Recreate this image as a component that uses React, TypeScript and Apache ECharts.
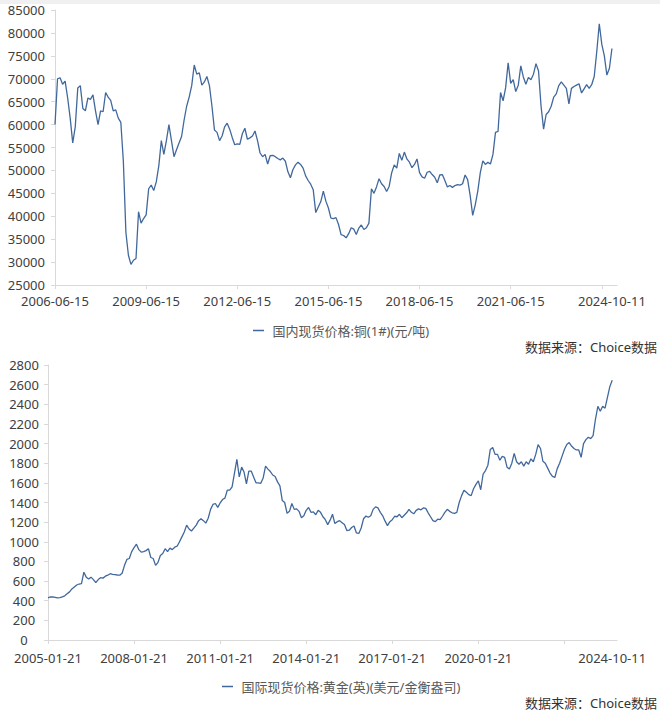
import { useEffect, useRef } from 'react';
import * as echarts from 'echarts';

const copperName = '国内现货价格:铜(1#)(元/吨)';
const goldName = '国际现货价格:黄金(英)(美元/金衡盎司)';
const sourceText = '数据来源：Choice数据';

const copperTickLabels = ['2006-06-15', '2009-06-15', '2012-06-15', '2015-06-15', '2018-06-15', '2021-06-15', '2024-10-11'];
const goldTickLabels = ['2005-01-21', '2008-01-21', '2011-01-21', '2014-01-21', '2017-01-21', '2020-01-21', '2024-10-11'];

// monthly readings, 2006-06 .. 2024-10
const copperValues = [
  60000, 70000, 70200, 68800, 69500, 65800, 61400, 56000, 59500, 68000, 68500, 63500,
  63000, 65800, 65500, 66500, 63000, 60000, 63000, 62800, 67000, 66000, 65300, 63000,
  63200, 61400, 60500, 52000, 36500, 31500, 29500, 30400, 30800, 41000, 38500, 39500,
  40300, 46000, 46800, 45600, 47500, 51000, 56500, 53500, 56500, 60000, 56500, 53000,
  54500, 56000, 57400, 61000, 64000, 66000, 68500, 73000, 71000, 71300, 68600, 69300,
  70500, 68500, 64000, 58800, 58300, 56500, 57500, 59500, 60300, 59000, 57200, 55600,
  55800, 55700, 58000, 59200, 56800, 57100, 57500, 58600, 56500, 53800, 53000, 53500,
  51400, 53200, 53300, 53000, 52600, 52300, 52700, 52000, 49700, 48400, 50200, 51200,
  51800, 51300, 50500, 48800, 47800, 47000, 45800, 40800, 42000, 43200, 45500, 43300,
  41800, 39600, 39500, 39700, 38200, 36000, 35800, 35300, 36200, 37500, 37200, 36000,
  37400, 38100, 37100, 37500, 38500, 46000, 45000, 46400, 48200, 47100, 46500, 45400,
  46500, 49500, 51200, 50500, 53700, 52200, 54000, 52500, 51800, 50600, 51300, 52500,
  49500, 48600, 48300, 49600, 49800, 49100, 48500, 47300, 49000, 49100, 47800, 46400,
  46700, 46300, 46700, 46900, 46800, 47100, 49000, 48000, 44500, 40200, 42500, 45500,
  49500, 52100, 51300, 51800, 51400, 53500, 58300, 58500, 67000, 65200, 68000, 73500,
  69000, 69800, 67200, 68600, 72800, 70400, 68800, 70300, 69800, 71000, 73300, 71700,
  64000, 59000, 62200, 62800, 64000, 66000, 66700, 68500, 69300, 68600, 67900, 64500,
  67900, 68300, 68600, 68900, 66900, 67800, 68700, 67900, 68700, 70500, 75900, 82000,
  77500, 75000, 70800, 72300, 76600
];

// monthly readings, 2005-01 .. 2024-10
const goldValues = [
  430, 438, 440, 435, 428, 432, 440, 450, 470, 490, 520, 540,
  560, 570, 575, 690, 640, 620, 640, 615, 585, 615, 635, 630,
  650, 660, 675, 668, 665, 662, 660, 680, 760, 820, 830, 900,
  940, 975, 920, 895, 900, 910, 930, 840, 830, 760, 790, 860,
  880, 930, 900, 935, 920, 945, 955, 1000, 1050, 1100, 1170, 1130,
  1110, 1140, 1170, 1215, 1235, 1215, 1190, 1240, 1330, 1380, 1390, 1350,
  1395, 1430, 1445, 1525, 1525, 1560, 1700, 1840, 1660, 1760, 1710, 1590,
  1720, 1720, 1660, 1600, 1600, 1595, 1650, 1770, 1740, 1715, 1680, 1665,
  1610, 1570, 1420, 1400, 1290, 1310, 1390, 1330, 1335, 1310, 1245, 1265,
  1320, 1350, 1300, 1305, 1275, 1320, 1300, 1255, 1225, 1175, 1220, 1280,
  1185, 1205, 1215, 1195, 1175, 1115, 1118, 1145, 1160, 1090, 1085, 1140,
  1235, 1262, 1250, 1265, 1330, 1355, 1345, 1300, 1265, 1210, 1165, 1205,
  1225, 1260, 1255, 1280, 1245, 1270, 1295, 1330, 1300, 1285, 1320, 1335,
  1325, 1345, 1340, 1295, 1255, 1215, 1205, 1230, 1225, 1260, 1300, 1330,
  1310, 1295, 1290, 1300, 1400, 1470, 1525, 1505, 1480, 1470, 1540, 1585,
  1620, 1530, 1690, 1725, 1780, 1940, 1960, 1890, 1890, 1830, 1870, 1860,
  1760, 1740, 1800, 1900, 1815, 1790, 1815, 1770, 1815, 1790, 1845, 1815,
  1890, 1990, 1950, 1820, 1800, 1750, 1700, 1665, 1655, 1745, 1800, 1870,
  1940, 1990, 2010, 1975, 1950, 1935, 1935, 1860, 2000, 2040, 2065, 2050,
  2080, 2250, 2380, 2330, 2380, 2360, 2470, 2580, 2645
];

// month-by-month category names, the last one replaced by the real end date,
// plus two empty slots so the axis line runs a bit past the data like the original
function monthlyDates(year: number, month: number, day: string, count: number, lastLabel: string) {
  const out: string[] = [];
  for (let i = 0; i < count; i++) {
    const m = month - 1 + i;
    const y = year + Math.floor(m / 12);
    const mm = String((m % 12) + 1).padStart(2, '0');
    out.push(i === count - 1 ? lastLabel : `${y}-${mm}-${day}`);
  }
  out.push(' ', '  ');
  return out;
}

const copperDates = monthlyDates(2006, 6, '15', copperValues.length, '2024-10-11');
const goldDates = monthlyDates(2005, 1, '21', goldValues.length, '2024-10-11');

const FONT = "'Noto Sans', 'Noto Sans CJK SC', sans-serif";
const LINE = '#41689c';
const AXIS = '#d9d9d9';
const LABEL = '#404040';

function xAxisFor(gridIndex: number, dates: string[], ticks: string[], margin: number) {
  return {
    type: 'category' as const,
    gridIndex,
    data: dates,
    boundaryGap: false,
    axisLine: { lineStyle: { color: AXIS } },
    axisTick: { length: 4, lineStyle: { color: AXIS }, interval: (i: number) => i % 36 === 0 },
    axisLabel: {
      interval: (_i: number, v: string) => ticks.includes(v),
      color: LABEL,
      fontSize: 13,
      fontFamily: FONT,
      margin
    },
    splitLine: { show: false }
  };
}

export default function App() {
  const chartRef = useRef<HTMLDivElement>(null);

  useEffect(() => {
    document.body.style.margin = '0';
    if (!chartRef.current) return;
    const chart = echarts.init(chartRef.current, null, { renderer: 'svg' });

    const option: echarts.EChartsOption = {
      animation: false,
      backgroundColor: '#ffffff',
      textStyle: { fontFamily: FONT },
      grid: [
        { left: 55, top: 10, width: 562, height: 275 },
        { left: 48, top: 365, width: 569, height: 275 }
      ],
      xAxis: [
        xAxisFor(0, copperDates, copperTickLabels, 9),
        xAxisFor(1, goldDates, goldTickLabels, 11)
      ],
      yAxis: [
        {
          type: 'value',
          gridIndex: 0,
          min: 25000,
          max: 85000,
          interval: 5000,
          axisLine: { show: true, lineStyle: { color: AXIS } },
          axisTick: { show: true, length: 4, lineStyle: { color: AXIS } },
          axisLabel: { color: LABEL, fontSize: 13, fontFamily: FONT, margin: 10, formatter: (v: number) => String(v) },
          splitLine: { show: false }
        },
        {
          type: 'value',
          gridIndex: 1,
          min: 0,
          max: 2800,
          interval: 200,
          axisLine: { show: true, lineStyle: { color: AXIS } },
          axisTick: { show: true, length: 4, lineStyle: { color: AXIS } },
          axisLabel: {
            color: LABEL,
            fontSize: 13,
            fontFamily: FONT,
            margin: 24,
            align: 'center',
            formatter: (v: number) => String(v)
          },
          splitLine: { show: false }
        }
      ],
      legend: [
        {
          data: [copperName],
          left: 248,
          top: 319,
          icon: 'rect',
          itemWidth: 11,
          itemHeight: 1.5,
          formatter: ' {name}',
          textStyle: { color: '#595959', fontSize: 13, fontFamily: FONT }
        },
        {
          data: [goldName],
          left: 217,
          top: 675,
          icon: 'rect',
          itemWidth: 11,
          itemHeight: 1.5,
          formatter: ' {name}',
          textStyle: { color: '#595959', fontSize: 13, fontFamily: FONT }
        }
      ],
      graphic: [
        { type: 'rect', left: 0, top: 0, shape: { width: 660, height: 4 }, style: { fill: '#f0f0f0' } },
        {
          type: 'text',
          right: 3,
          top: 340,
          style: { text: sourceText, fill: '#333333', fontSize: 13, fontFamily: FONT }
        },
        {
          type: 'text',
          right: 3,
          top: 696,
          style: { text: sourceText, fill: '#333333', fontSize: 13, fontFamily: FONT }
        }
      ],
      series: [
        {
          name: copperName,
          type: 'line',
          xAxisIndex: 0,
          yAxisIndex: 0,
          data: copperValues,
          showSymbol: false,
          lineStyle: { color: LINE, width: 1.3 },
          itemStyle: { color: LINE }
        },
        {
          name: goldName,
          type: 'line',
          xAxisIndex: 1,
          yAxisIndex: 1,
          data: goldValues,
          showSymbol: false,
          lineStyle: { color: LINE, width: 1.3 },
          itemStyle: { color: LINE }
        }
      ]
    };

    chart.setOption(option);
    return () => chart.dispose();
  }, []);

  return <div ref={chartRef} style={{ width: 660, height: 713 }} />;
}
